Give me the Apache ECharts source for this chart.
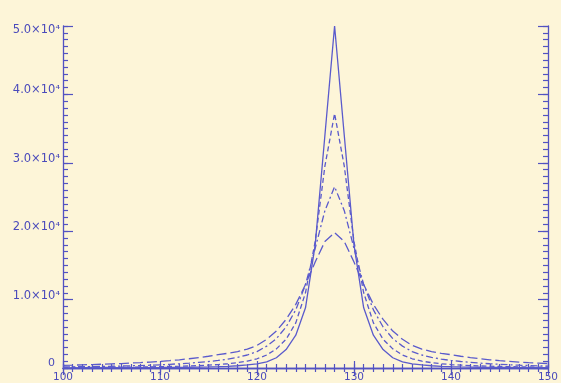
<!DOCTYPE html>
<html>
<head>
<meta charset="utf-8">
<script src="https://cdn.jsdelivr.net/npm/echarts@6/dist/echarts.min.js"></script>
<style>
html,body{margin:0;padding:0;background:#fdf5d8;}
#c{width:561px;height:383px;}
</style>
</head>
<body>
<div id="c"></div>
<script>
const xs = [100,101,102,103,104,105,106,107,108,109,110,111,112,113,114,115,116,117,118,119,120,121,122,123,124,125,126,127,128,129,130,131,132,133,134,135,136,137,138,139,140,141,142,143,144,145,146,147,148,149,150];
const solid = [30,32,35,38,42,46,50,56,62,68,75,85,95,110,130,160,200,250,330,450,600,900,1500,2700,4800,8800,18000,34000,50000,34000,18000,8800,4800,2700,1500,900,600,450,330,250,200,160,130,110,95,85,75,68,62,56,50];
const dashed = [65,72,80,88,98,108,120,135,150,170,195,225,260,300,350,420,500,620,780,1000,1350,1900,2800,4200,6600,11000,18500,29500,37200,29500,18500,11000,6600,4200,2800,1900,1350,1000,780,620,500,420,350,300,260,225,195,170,150,135,120];
const dashDot = [160,175,190,210,230,255,285,320,360,410,470,540,620,710,820,950,1100,1300,1550,1900,2400,3200,4300,6000,8500,12200,17500,23000,26500,23000,17500,12200,8500,6000,4300,3200,2400,1900,1550,1300,1100,950,820,710,620,540,470,410,360,320,285];
const longDash = [390,420,460,500,550,600,650,720,790,870,970,1080,1200,1350,1520,1720,1950,2150,2400,2750,3300,4200,5400,7100,9300,12200,15500,18500,19800,18500,15500,12200,9300,7100,5400,4200,3300,2750,2400,2150,1950,1720,1520,1350,1200,1080,970,870,790,720,650];
const xTicks = [100,110,120,130,140,150];
const yTickLabels = {0:'0',10000:'1.0×10⁴',20000:'2.0×10⁴',30000:'3.0×10⁴',40000:'4.0×10⁴',50000:'5.0×10⁴'};

const axisColor = '#5252c2';
const lineColor = '#5a5acc';
const textColor = '#4a4abb';
const font = 'DejaVu Sans';

const pairs = arr => xs.map((x, i) => [x, arr[i]]);

const chart = echarts.init(document.getElementById('c'), null, {renderer: 'canvas'});

function xAx(pos, interval, tickLen, withLine, withLabel) {
  return {
    type: 'value', min: 100, max: 150, interval: interval, position: pos,
    axisLine: {show: withLine, lineStyle: {color: axisColor, width: 1.3}},
    axisTick: {show: true, inside: true, length: tickLen, lineStyle: {color: axisColor, width: 1.2}},
    splitLine: {show: false},
    axisLabel: withLabel ? {show: true, color: textColor, fontSize: 10.5, fontFamily: font, margin: 4,
      formatter: v => xTicks.includes(v) ? String(v) : ''} : {show: false}
  };
}
function yAx(pos, interval, tickLen, withLine, withLabel) {
  return {
    type: 'value', min: 0, max: 50000, interval: interval, position: pos,
    axisLine: {show: withLine, lineStyle: {color: axisColor, width: 1.3}},
    axisTick: {show: true, inside: true, length: tickLen, lineStyle: {color: axisColor, width: 1.2}},
    splitLine: {show: false},
    axisLabel: withLabel ? {
      show: true, color: textColor, fontFamily: font, margin: 3,
      verticalAlign: 'bottom', verticalAlignMaxLabel: 'middle',
      formatter: v => v === 0 ? '{z|0}' : (v === 50000 ? '{t|' : '{m|') + yTickLabels[v] + '}',
      rich: {
        z: {fontSize: 11, color: textColor, fontFamily: font, padding: [0, 5, 0, 0], lineHeight: 9},
        m: {fontSize: 11.5, color: textColor, fontFamily: font, lineHeight: 8},
        t: {fontSize: 11.5, color: textColor, fontFamily: font, lineHeight: 10, padding: [8, 0, 0, 0]}
      }
    } : {show: false}
  };
}

chart.setOption({
  backgroundColor: '#fdf5d8',
  animation: false,
  grid: {left: 63, right: 8, top: 26, bottom: 14, containLabel: false},
  xAxis: [
    xAx('bottom', 10, 7, true, true),
    xAx('bottom', 1, 4, false, false),
    xAx('top', 10, 7, true, false),
    xAx('top', 1, 4, false, false)
  ],
  yAxis: [
    yAx('left', 10000, 10, true, true),
    yAx('left', 1000, 5, false, false),
    yAx('right', 10000, 10, true, false),
    yAx('right', 1000, 5, false, false)
  ],
  series: [
    {type: 'line', data: pairs(solid), showSymbol: false, lineStyle: {color: lineColor, width: 1.3, type: 'solid'}},
    {type: 'line', data: pairs(dashed), showSymbol: false, lineStyle: {color: lineColor, width: 1.3, type: [5, 3]}},
    {type: 'line', data: pairs(dashDot), showSymbol: false, lineStyle: {color: lineColor, width: 1.3, type: [7, 3, 2, 3]}},
    {type: 'line', data: pairs(longDash), showSymbol: false, lineStyle: {color: lineColor, width: 1.3, type: [10, 4]}}
  ]
});
</script>
</body>
</html>
